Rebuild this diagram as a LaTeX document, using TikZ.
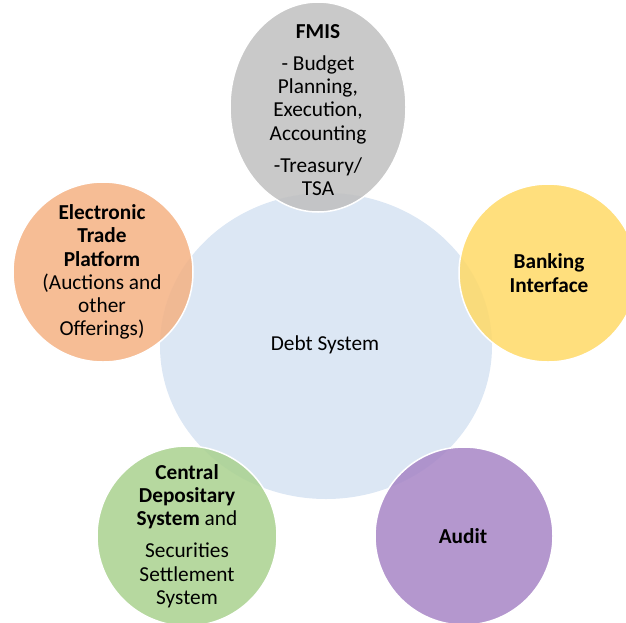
\documentclass[tikz,border=0pt]{standalone}
\usepackage{fontspec}
\setmainfont{Carlito}
\definecolor{cblue}{HTML}{DCE7F4}
\definecolor{cgrey}{HTML}{BFBFBF}
\definecolor{cyellow}{HTML}{FFD966}
\definecolor{cpurple}{HTML}{A785C6}
\definecolor{cgreen}{HTML}{A9D18E}
\definecolor{corange}{HTML}{F4B183}
\tikzset{
  outer/.style={draw=white, line width=1.5pt, fill opacity=0.85},
  lbl/.style={align=center, font=\fontsize{21.3}{23.3}\selectfont, inner sep=0pt},
}
\begin{document}
\begin{tikzpicture}[x=1pt,y=-1pt]
\useasboundingbox (0,0) rectangle (626,622);
\clip (0,0) rectangle (626,622);
% central
\fill[cblue] (326,346) ellipse [x radius=166, y radius=153];
% outer circles
\filldraw[outer, fill=cgrey] (318,107) ellipse [x radius=88, y radius=105];
\filldraw[outer, fill=cyellow] (548,273) circle [radius=89];
\filldraw[outer, fill=cpurple] (464,536) circle [radius=89];
\filldraw[outer, fill=cgreen] (187,536) circle [radius=90];
\filldraw[outer, fill=corange] (103,272) circle [radius=90];
% labels
\node[lbl] (debt) at (325,345) {Debt System};
\node[lbl] (fmis) at (318,110) {\textbf{FMIS}\\[9pt]- Budget\\Planning,\\Execution,\\Accounting\\[9pt]-Treasury/\\TSA};
\node[lbl] (bank) at (549,273) {\textbf{Banking}\\\textbf{Interface}};
\node[lbl] (audit) at (463,536) {\textbf{Audit}};
\node[lbl] (csd) at (187,536) {\textbf{Central}\\\textbf{Depositary}\\\textbf{System} and\\[9pt]Securities\\Settlement\\System};
\node[lbl] (etp) at (102,272) {\textbf{Electronic}\\\textbf{Trade}\\\textbf{Platform}\\(Auctions and\\other\\Offerings)};
\end{tikzpicture}
\end{document}
